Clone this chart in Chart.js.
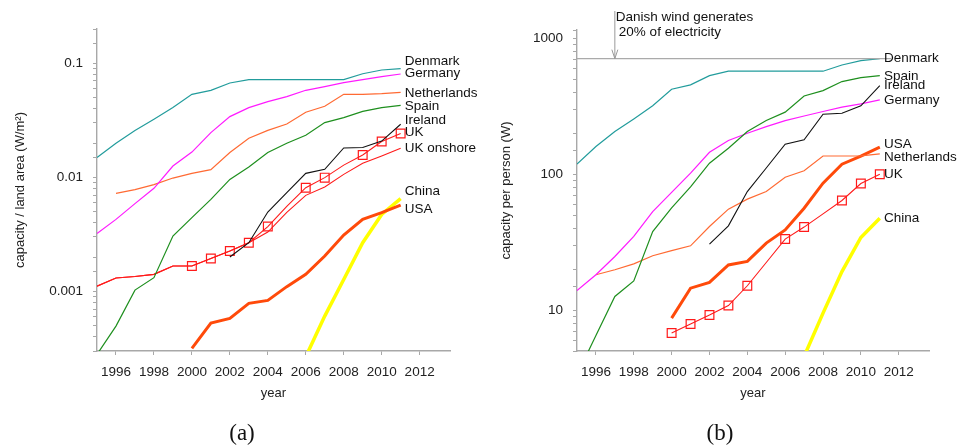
<!DOCTYPE html>
<html>
<head>
<meta charset="utf-8">
<script src="https://cdn.jsdelivr.net/npm/chart.js@4/dist/chart.umd.min.js"></script>
<style>
  body { margin: 0; background: #fff; width: 960px; height: 447px; overflow: hidden; position: relative; }
  .panel { position: absolute; top: 0; width: 480px; height: 447px; }
  .cap { position: absolute; top: 420px; width: 60px; text-align: center; font-family: 'Liberation Serif', 'DejaVu Serif', serif; font-size: 23px; color: #111; }
</style>
</head>
<body>
<div class="panel" style="left:0"><canvas id="chartA" width="480" height="447"></canvas></div>
<div class="panel" style="left:480px"><canvas id="chartB" width="480" height="447"></canvas></div>
<div class="cap" style="left:212px">(a)</div>
<div class="cap" style="left:690px">(b)</div>
<script>
var years = [1995,1996,1997,1998,1999,2000,2001,2002,2003,2004,2005,2006,2007,2008,2009,2010,2011];

// (a) capacity per land area, W/m2
var denmarkA     = [0.0149,0.0199,0.0258,0.0323,0.0409,0.0535,0.058,0.0672,0.072,0.072,0.072,0.072,0.072,0.072,0.081,0.0874,0.0899];
var germanyA     = [0.00321,0.00428,0.00588,0.00801,0.01256,0.01667,0.02466,0.0341,0.0409,0.0461,0.051,0.058,0.0625,0.0677,0.072,0.0765,0.0806];
var netherlandsA = [null,0.00724,0.0078,0.00863,0.00986,0.01084,0.0117,0.0165,0.022,0.0258,0.0294,0.0372,0.042,0.0535,0.0535,0.0542,0.0557];
var spainA       = [0.00028,0.000496,0.001026,0.00132,0.00306,0.00443,0.00641,0.0096,0.0123,0.0165,0.0199,0.0234,0.0302,0.0334,0.0379,0.0409,0.0428];
var irelandA     = [null,null,null,null,null,null,null,0.002,0.00267,0.00496,0.00734,0.01084,0.01175,0.0181,0.0183,0.0208,0.0292];
var ukA          = [0.00111,0.00131,0.00135,0.00141,0.00167,0.00167,0.00194,0.00226,0.00267,0.0037,0.00557,0.00812,0.00994,0.0128,0.0157,0.0206,0.0242];
var ukOnshoreA   = [0.00111,0.00131,0.00135,0.00141,0.00167,0.00167,0.00194,0.00226,0.00267,0.00331,0.00493,0.00695,0.00822,0.01062,0.01327,0.01538,0.01796];
var usaA         = [null,null,null,null,null,0.000316,0.000527,0.00058,0.000785,0.000834,0.0011,0.00141,0.00204,0.00312,0.00428,0.0049,0.00571];
var chinaA       = [null,null,null,null,null,null,null,null,null,null,null,0.000267,0.000607,0.00127,0.00267,0.00473,0.0065];

// (b) capacity per person, W
var denmarkB     = [118.5,159.6,205.7,255,319,422,454,531,572,572,572,572,572,572,636,685,708];
var spainB       = [3.34,6.5,12.6,16.4,37.8,56.5,80.7,120.5,155,205.7,248,286,376,412,480,513,531];
var irelandB     = [null,null,null,null,null,null,null,30.6,41.7,74.5,111,166,179,276,281,318,448];
var germanyB     = [13.9,18.2,24.8,34.8,53.1,73.5,101.7,145,177,200,224,248,268,289,311,329,352];
var usaB         = [null,null,null,null,null,8.73,14.5,16,21.5,22.8,31.1,38.9,56.2,85.9,118.5,136,158];
var netherlandsB = [null,18.2,19.8,21.9,25.1,27.4,29.7,41.2,55.3,65.5,74.5,95,106,136,136,136.5,141];
var ukB          = [null,null,null,null,null,6.78,7.89,9.19,10.8,15.1,22.4,33.3,40.8,51,64,85.3,100];
var chinaB       = [null,null,null,null,null,null,null,null,null,null,null,null,4.56,9.5,19.2,34.2,47.4];

// Danish wind = 20% of electricity, W per person
var danish20pct = 708;
var danishYear = 1997;

var ukMarked = [2000,2001,2002,2003,2004,2006,2007,2009,2010,2011];

// where the end-of-line names sit (value on the y axis)
var labelsA = [['Denmark',0.1041],['Germany',0.0818],['Netherlands',0.0546],['Spain',0.042],['Ireland',0.0316],['UK',0.0248],['UK onshore',0.01795],['China',0.00753],['USA',0.00524]];
var labelsB = [['Denmark',708],['Spain',528],['Ireland',450],['Germany',352],['USA',167],['Netherlands',134],['UK',100.5],['China',47.4]];
var labelYear = 2011.22;

const FONT = "'Liberation Sans', Arial, Helvetica, sans-serif";
const AXIS = '#a8a8a8';

function pts(arr){
    let out = [];
    for(let i=0;i<years.length;i++){
        out.push({x: years[i], y: arr[i]});
    }
    return out;
}

function line(label, arr, color, width){
    return { label: label, data: pts(arr), borderColor: color, backgroundColor: color,
             borderWidth: width, pointRadius: 0, tension: 0, fill: false };
}

function ukLine(label, arr){
    let ds = line(label, arr, '#ff1a1a', 1.1);
    ds.pointStyle = 'rect';
    ds.pointBorderColor = '#ff1a1a';
    ds.pointBackgroundColor = 'rgba(0,0,0,0)';
    ds.pointBorderWidth = 1.2;
    ds.pointRadius = function(c){ return ukMarked.indexOf(c.raw && c.raw.x) >= 0 ? 6.2 : 0; };
    return ds;
}

function isDecade(v){
    let l = Math.log10(v);
    return Math.abs(l - Math.round(l)) < 1e-6;
}

function endLabels(list){
    return {
        id: 'endLabels',
        afterDatasetsDraw(chart){
            const c = chart.ctx, xs = chart.scales.x, ys = chart.scales.y;
            c.save();
            c.font = '13.5px ' + FONT;
            c.fillStyle = '#111';
            c.textBaseline = 'middle';
            c.textAlign = 'left';
            list.forEach(function(l){
                c.fillText(l[0], xs.getPixelForValue(labelYear), ys.getPixelForValue(l[1]));
            });
            c.restore();
        }
    };
}

function options(yTitle, yMin, yMax, titlePad, pad){
    return {
        responsive: false,
        animation: false,
        layout: { padding: pad },
        plugins: { legend: { display: false }, tooltip: { enabled: false } },
        scales: {
            x: {
                type: 'linear', min: 1995, max: 2013.6,
                afterFit: function(s){ s.height = 60; },
                ticks: { stepSize: 2, includeBounds: false, padding: 9, color: '#222',
                         font: { family: FONT, size: 13.5 }, callback: v => String(v), maxRotation: 0 },
                grid: { drawOnChartArea: false, tickLength: 4, color: AXIS },
                border: { color: AXIS, width: 1.4 },
                title: { display: true, text: 'year', color: '#222', font: { family: FONT, size: 13 },
                         padding: { top: 0, bottom: 10 } }
            },
            y: {
                type: 'logarithmic', min: yMin, max: yMax,
                afterFit: function(s){ s.width = 97; },
                ticks: { padding: 10, color: '#222', autoSkip: false, font: { family: FONT, size: 13.5 },
                         callback: v => isDecade(v) ? String(v) : '' },
                grid: { drawOnChartArea: false, tickLength: 4, color: AXIS },
                border: { color: AXIS, width: 1.4 },
                title: { display: true, text: yTitle, color: '#222', font: { family: FONT, size: 13 },
                         padding: { top: titlePad, bottom: 0 } }
            }
        }
    };
}

var chartA = new Chart(document.getElementById('chartA'), {
    type: 'line',
    data: { datasets: [
        line('Denmark', denmarkA, '#229c9c', 1.2),
        line('Germany', germanyA, '#ff1aff', 1.2),
        line('Netherlands', netherlandsA, '#ff6a33', 1.2),
        line('Spain', spainA, '#1e8f1e', 1.2),
        line('Ireland', irelandA, '#111111', 1.1),
        line('UK onshore', ukOnshoreA, '#ff1a1a', 1.1),
        ukLine('UK', ukA),
        line('USA', usaA, '#ff4a0a', 3),
        line('China', chinaA, '#ffff00', 3.5)
    ]},
    options: options('capacity / land area (W/m\u00b2)', 0.0003, 0.2, 13, { left: 0, right: 30, top: 29, bottom: 36 }),
    plugins: [endLabels(labelsA)]
});

var danishNote = {
    id: 'danishNote',
    afterDatasetsDraw(chart){
        const c = chart.ctx, xs = chart.scales.x, ys = chart.scales.y;
        const x = xs.getPixelForValue(danishYear), y = ys.getPixelForValue(danish20pct);
        c.save();
        c.strokeStyle = '#999';
        c.lineWidth = 1;
        c.beginPath();
        c.moveTo(x, 11); c.lineTo(x, y);
        c.moveTo(x - 3, y - 9); c.lineTo(x, y); c.lineTo(x + 3, y - 9);
        c.stroke();
        c.font = '13.5px ' + FONT;
        c.fillStyle = '#111';
        c.textBaseline = 'middle';
        c.fillText('Danish wind generates', x + 1, 17);
        c.fillText('20% of electricity', x + 4, 32);
        c.restore();
    }
};

var chartB = new Chart(document.getElementById('chartB'), {
    type: 'line',
    data: { datasets: [
        { label: 'Danish 20%', data: [{x: 1995, y: danish20pct}, {x: 2011.6, y: danish20pct}],
          borderColor: '#aaaaaa', borderWidth: 1.2, pointRadius: 0, tension: 0 },
        line('Denmark', denmarkB, '#229c9c', 1.2),
        line('Spain', spainB, '#1e8f1e', 1.2),
        line('Ireland', irelandB, '#111111', 1.1),
        line('Germany', germanyB, '#ff1aff', 1.2),
        line('Netherlands', netherlandsB, '#ff6a33', 1.2),
        ukLine('UK', ukB),
        line('USA', usaB, '#ff4a0a', 3),
        line('China', chinaB, '#ffff00', 3.5)
    ]},
    options: options('capacity per person (W)', 5, 1150, 19, { left: 0, right: 31, top: 30, bottom: 36 }),
    plugins: [endLabels(labelsB), danishNote]
});
</script>
</body>
</html>
